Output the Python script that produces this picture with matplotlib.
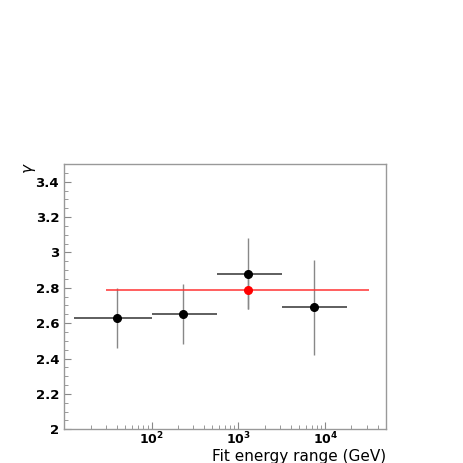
import numpy as np
import matplotlib.pyplot as plt
from matplotlib.ticker import LogLocator, MultipleLocator, NullFormatter

# fitted spectral index per energy range
x_cen = [40, 228, 1283, 7330]
x_lo = [12.7, 100, 562, 3162]
x_hi = [100, 562, 3162, 17800]
gamma = [2.63, 2.65, 2.88, 2.69]
g_err = [0.17, 0.17, 0.20, 0.27]

# global fit
fit_x = 1283
fit_lo = 30
fit_hi = 31900
fit_gamma = 2.79
fit_err = 0.11

fig = plt.figure(figsize=(4.63, 4.63), dpi=100)
ax = fig.add_axes([64 / 463, 1 - 429.3 / 463, (386 - 64) / 463, (429.3 - 164) / 463])

xerr = [np.array(x_cen) - np.array(x_lo), np.array(x_hi) - np.array(x_cen)]
ax.errorbar(x_cen, gamma, yerr=g_err, fmt='none', ecolor='#888888', elinewidth=1, capsize=0, zorder=2)
ax.errorbar(x_cen, gamma, xerr=xerr, fmt='none', ecolor='#333333', elinewidth=1.1, capsize=0, zorder=2)
ax.errorbar([fit_x], [fit_gamma], yerr=[fit_err], fmt='none', ecolor='#888888', elinewidth=1, capsize=0, zorder=2)
ax.errorbar([fit_x], [fit_gamma], xerr=[[fit_x - fit_lo], [fit_hi - fit_x]], fmt='none',
            ecolor='#ff3333', elinewidth=1.1, capsize=0, zorder=3)
ax.plot(x_cen, gamma, 'o', color='black', markersize=5.5, zorder=4)
ax.plot([fit_x], [fit_gamma], 'o', color='red', markersize=5.5, zorder=5)

ax.set_xscale('log')
ax.set_xlim(9.8, 5e4)
ax.set_ylim(2, 3.5)

ax.yaxis.set_major_locator(MultipleLocator(0.2))
ax.yaxis.set_minor_locator(MultipleLocator(0.05))
ax.xaxis.set_minor_locator(LogLocator(base=10, subs=np.arange(2, 10), numticks=20))
ax.xaxis.set_minor_formatter(NullFormatter())
ax.set_xticks([100, 1000, 10000])
ax.set_xticklabels([r'$\mathbf{10^{2}}$', r'$\mathbf{10^{3}}$', r'$\mathbf{10^{4}}$'])
ax.set_yticks([2, 2.2, 2.4, 2.6, 2.8, 3, 3.2, 3.4])
ax.set_yticklabels(['2', '2.2', '2.4', '2.6', '2.8', '3', '3.2', '3.4'])

ax.tick_params(which='both', direction='in', top=False, right=False, colors='#888888',
               labelcolor='black', labelsize=9.5)
ax.tick_params(which='major', length=5)
ax.tick_params(which='minor', length=3)
ax.tick_params(axis='x', pad=1, labelsize=9)
for lab in ax.get_yticklabels():
    lab.set_fontweight('bold')
for s in ax.spines.values():
    s.set_color('#999999')
    s.set_linewidth(1)

fig.text(386 / 463, 1 - 456 / 463, 'Fit energy range (GeV)', ha='right', va='center', fontsize=11)
fig.text(30 / 463, 1 - 168 / 463, r'$\gamma$', ha='center', va='center', fontsize=11, rotation=90)

fig.savefig('out.png', dpi=100)
